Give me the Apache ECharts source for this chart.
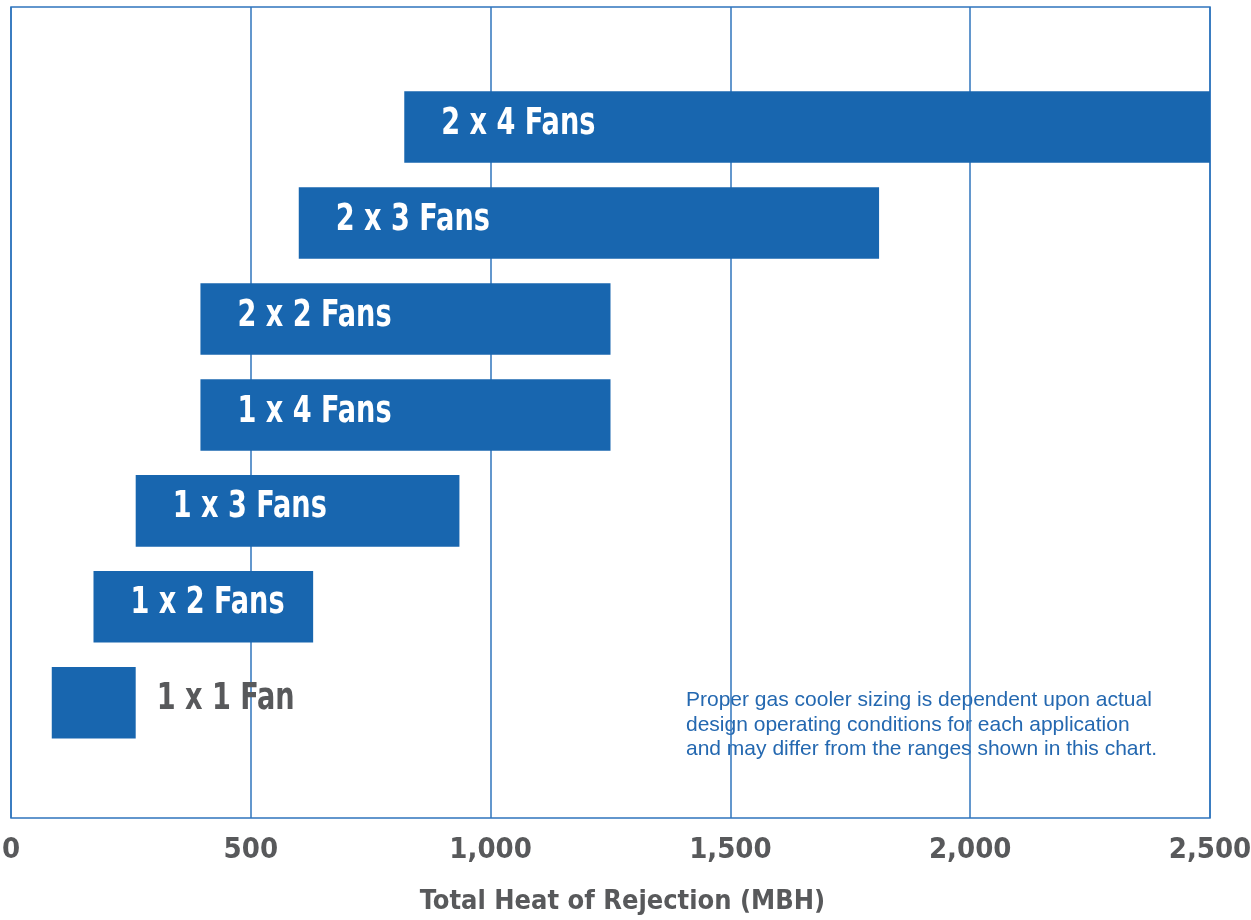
<!DOCTYPE html>
<html lang="en">
<head>
    <meta charset="UTF-8">
    <script type="text/javascript" src="https://cdn.jsdelivr.net/npm/echarts@6/dist/echarts.min.js"></script>
    <style>
        html, body {margin: 0; padding: 0; background: #fff;}
        #chart {width: 1251px; height: 920px;}
    </style>
</head>
<body>
<div id="chart"></div>
<script>
    // ranges, bottom row first
    var categories = ['1 x 1 Fan', '1 x 2 Fans', '1 x 3 Fans', '1 x 4 Fans', '2 x 2 Fans', '2 x 3 Fans', '2 x 4 Fans'];
    var lowValues = [85, 172, 260, 395, 395, 600, 820];
    var highValues = [260, 630, 935, 1250, 1250, 1810, 2500];
    var xTicks = [0, 500, 1000, 1500, 2000, 2500];

    var noteText = 'Proper gas cooler sizing is dependent upon actual\n' +
        'design operating conditions for each application\n' +
        'and may differ from the ranges shown in this chart.';

    var BLUE = '#1866af';
    var GRAY = '#58595b';
    var COND = '"Liberation Sans Narrow", "DejaVu Sans Condensed", "Arial Narrow", sans-serif';

    var barData = categories.map(function (name, i) {
        return [i, lowValues[i], highValues[i], name];
    });

    var myChart = echarts.init(document.getElementById('chart'));
    myChart.setOption({
        backgroundColor: '#fff',
        animation: false,
        grid: {
            left: 11,
            right: 41,
            top: 7,
            bottom: 102,
            show: true,
            borderColor: '#2f74bd',
            borderWidth: 1.5,
            containLabel: false,
            outerBoundsMode: 'none'
        },
        xAxis: {
            type: 'value',
            min: xTicks[0],
            max: xTicks[xTicks.length - 1],
            interval: 500,
            axisLine: {show: false},
            axisTick: {show: false},
            splitLine: {show: true, lineStyle: {color: '#2f74bd', width: 1.5}},
            axisLabel: {
                margin: 18,
                color: GRAY,
                fontFamily: COND,
                fontWeight: 'bold',
                fontSize: 29,
                formatter: function (v) {
                    return v.toLocaleString('en-US');
                }
            },
            name: 'Total Heat of Rejection (MBH)',
            nameLocation: 'middle',
            nameGap: 70,
            nameTextStyle: {
                color: GRAY,
                fontFamily: COND,
                fontWeight: 'bold',
                fontSize: 27,
                padding: [0, 0, 0, 24]
            }
        },
        yAxis: {
            type: 'value',
            min: -1.2,
            max: 7.25,
            show: false,
            splitLine: {show: false}
        },
        graphic: [{
            type: 'text',
            left: 686,
            top: 688,
            style: {
                text: noteText,
                fill: '#2468b0',
                font: '21px "Liberation Sans", Arial, sans-serif',
                lineHeight: 24.5
            }
        }],
        series: [{
            type: 'custom',
            name: 'Ranges',
            data: barData,
            encode: {x: [1, 2], y: 0},
            renderItem: function (params, api) {
                var y = api.value(0);
                var start = api.coord([api.value(1), y]);
                var end = api.coord([api.value(2), y]);
                var h = api.size([0, 0.745])[1];
                var label = categories[params.dataIndex];
                var w = end[0] - start[0];
                var inside = w > 150;   // the short bar gets its label outside
                return {
                    type: 'group',
                    children: [{
                        type: 'rect',
                        shape: {x: start[0], y: start[1] - h / 2, width: w, height: h},
                        style: {fill: BLUE}
                    }, {
                        type: 'text',
                        x: inside ? start[0] + 37 : end[0] + 21,
                        y: start[1] - 3,
                        scaleX: 0.815,
                        style: {
                            text: label,
                            fill: inside ? '#fff' : GRAY,
                            fontFamily: COND,
                            fontWeight: 'bold',
                            fontSize: 37,
                            verticalAlign: 'middle',
                            align: 'left'
                        }
                    }]
                };
            }
        }]
    });
</script>
</body>
</html>
